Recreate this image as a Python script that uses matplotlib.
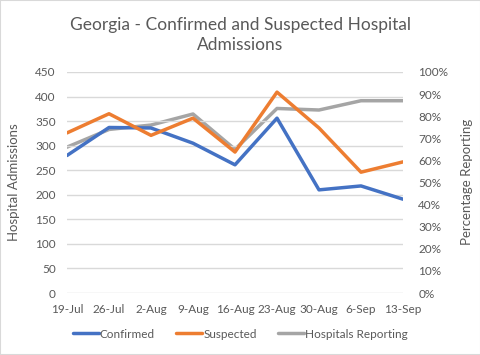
import matplotlib
matplotlib.use("Agg")
import matplotlib.pyplot as plt
from matplotlib.patches import Rectangle
from matplotlib.ticker import PercentFormatter

plt.rcParams['font.family'] = ['Lato', 'DejaVu Sans']

weeks = ['19-Jul', '26-Jul', '2-Aug', '9-Aug', '16-Aug', '23-Aug', '30-Aug', '6-Sep', '13-Sep']
confirmed = [280, 337, 336, 305, 261, 356, 210, 218, 191]
suspected = [326, 365, 321, 356, 287, 409, 336, 246, 267]
pct_reporting = [0.66, 0.74, 0.76, 0.81, 0.65, 0.835, 0.828, 0.87, 0.87]

blue = '#4472C4'
orange = '#ED7D31'
gray = '#A5A5A5'
text_col = '#595959'

fig = plt.figure(figsize=(4.81, 3.55), dpi=100)
ax = fig.add_axes([67 / 481, 1 - 293 / 355, (403 - 67) / 481, (293 - 72) / 355])
ax2 = ax.twinx()

x = list(range(len(weeks)))
l1, = ax.plot(x, confirmed, color=blue, lw=2.5, solid_capstyle='round', label='Confirmed')
l2, = ax.plot(x, suspected, color=orange, lw=2.5, solid_capstyle='round', label='Suspected')
l3, = ax2.plot(x, pct_reporting, color=gray, lw=2.5, solid_capstyle='round', label='Hospitals Reporting')
ax2.set_zorder(ax.get_zorder() - 1)
ax.patch.set_visible(False)

ax.set_ylim(0, 450)
ax.set_yticks(range(0, 451, 50))
ax2.set_ylim(0, 1.0)
ax2.set_yticks([i / 10 for i in range(11)])
ax2.yaxis.set_major_formatter(PercentFormatter(1.0, decimals=0))
ax.set_xlim(0, len(weeks) - 1)
ax.set_xticks(x)
ax.set_xticklabels(weeks)

ax.grid(axis='y', color='#D9D9D9', lw=1)
for a in (ax, ax2):
    for s in a.spines.values():
        s.set_visible(False)
    a.tick_params(length=0, colors=text_col, labelsize=8.5)
ax.tick_params(axis='y', pad=8)
ax2.tick_params(axis='y', pad=11)
ax.tick_params(axis='x', pad=8)

fig.text(14 / 481, 1 - 182 / 355, 'Hospital Admissions', rotation=90, ha='center', va='center',
         color=text_col, fontsize=9.5)
fig.text(467 / 481, 1 - 182 / 355, 'Percentage Reporting', rotation=90, ha='center', va='center',
         color=text_col, fontsize=9.5)

fig.text(0.5, 1 - 35 / 355, 'Georgia - Confirmed and Suspected Hospital\nAdmissions',
         ha='center', va='center', fontsize=12.5, color=text_col, linespacing=1.3)

fig.legend(handles=[l1, l2, l3], loc='center', bbox_to_anchor=(0.5, 1 - 334 / 355),
           ncol=3, frameon=False, fontsize=8.5, labelcolor=text_col,
           handlelength=2.2, handletextpad=0.1, columnspacing=1.8)

fig.patches.append(Rectangle((0, 0), 1, 1, transform=fig.transFigure, fill=False,
                             edgecolor='#D9D9D9', lw=1.5))

fig.savefig('out.png', dpi=100)
